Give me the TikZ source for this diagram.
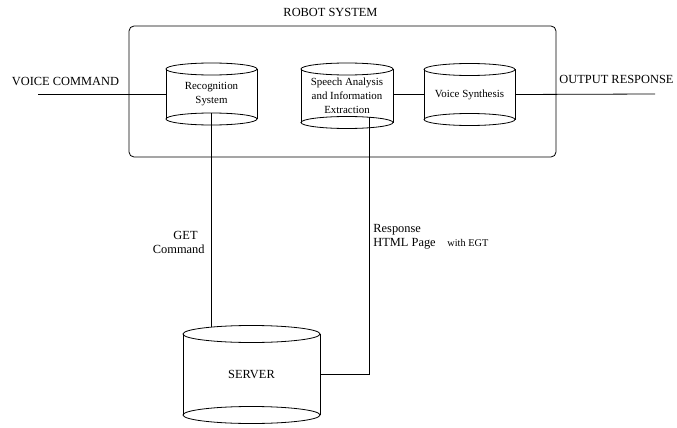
\documentclass[tikz,border=0pt]{standalone}
\usepackage{fontspec}
\setmainfont{Liberation Serif}
\usetikzlibrary{shapes.geometric}

% Upright drum: #1 name, #2 centre x, #3 top y, #4 bottom y, #5 x radius, #6 y radius, #7 label
\newcommand\drum[7]{%
  \node[drumtext, minimum width=2*#5pt, minimum height=(#4-#3)*1pt] (#1) at (#2,{(#3+#4)/2}) {#7};
  \draw (#1.north west) -- (#1.south west) (#1.north east) -- (#1.south east);
  \node[drumend, minimum width=2*#5pt, minimum height=2*#6pt] (#1-top) at (#1.north) {};
  \node[drumend, minimum width=2*#5pt, minimum height=2*#6pt] (#1-bot) at (#1.south) {};
}

\begin{document}
\begin{tikzpicture}[x=1pt, y=-1pt, line width=0.8pt,
  bigtext/.style={font=\fontsize{12.4}{14}\selectfont, inner sep=0pt},
  smalltext/.style={font=\fontsize{10.3}{12}\selectfont, inner sep=0pt},
  drumtext/.style={font=\fontsize{10.9}{13.6}\selectfont, align=center, inner sep=0pt, outer sep=0pt},
  drumend/.style={ellipse, draw, inner sep=0pt, outer sep=0pt},
  frame/.style={draw, rounded corners=5pt, inner sep=0pt, outer sep=0pt},
]
\useasboundingbox (0,0) rectangle (677,428);

% robot system frame
\node[frame, minimum width=427pt, minimum height=131pt] (robot) at (342.5,91.5) {};
\node[bigtext, anchor=base] (title) at (330.5,17) {ROBOT SYSTEM};

% drums
\drum{rec}{211.5}{69}{119}{45.5}{6}{Recognition\\System}
\drum{sp}{347}{69}{122.5}{46}{6}{Speech Analysis\\and Information\\Extraction}
\drum{syn}{469.5}{69.5}{119.5}{45.5}{6}{Voice Synthesis}
\drum{srv}{251.5}{334}{415}{68.5}{8.5}{\fontsize{12.4}{14}\selectfont SERVER}

% outer labels
\node[bigtext, anchor=base] (vclabel) at (65.5,85) {VOICE COMMAND};
\node[bigtext, anchor=base] (outlabel) at (616.5,84) {OUTPUT RESPONSE};
\node[bigtext, anchor=base east] (get) at (198,239) {GET};
\node[bigtext, anchor=base east] (cmd) at (205,253) {Command};
\node[bigtext, anchor=base west] (resp) at (373,232) {Response};
\node[bigtext, anchor=base west] (html) at (373,246) {HTML Page};
\node[smalltext, anchor=base west] (egt) at (447,246) {with EGT};

% connectors
\coordinate (vcin) at (38,94);
\coordinate (outend) at (655,94);
\draw (vcin) -- (rec.west);
\draw (syn.west) -- (syn.west -| sp.east);
\draw (syn.east) -- (outend);
\draw (rec-bot.north) -- (rec-bot.north |- srv-top.171);
\draw (sp-bot.13) |- (srv.east);
\end{tikzpicture}
\end{document}
